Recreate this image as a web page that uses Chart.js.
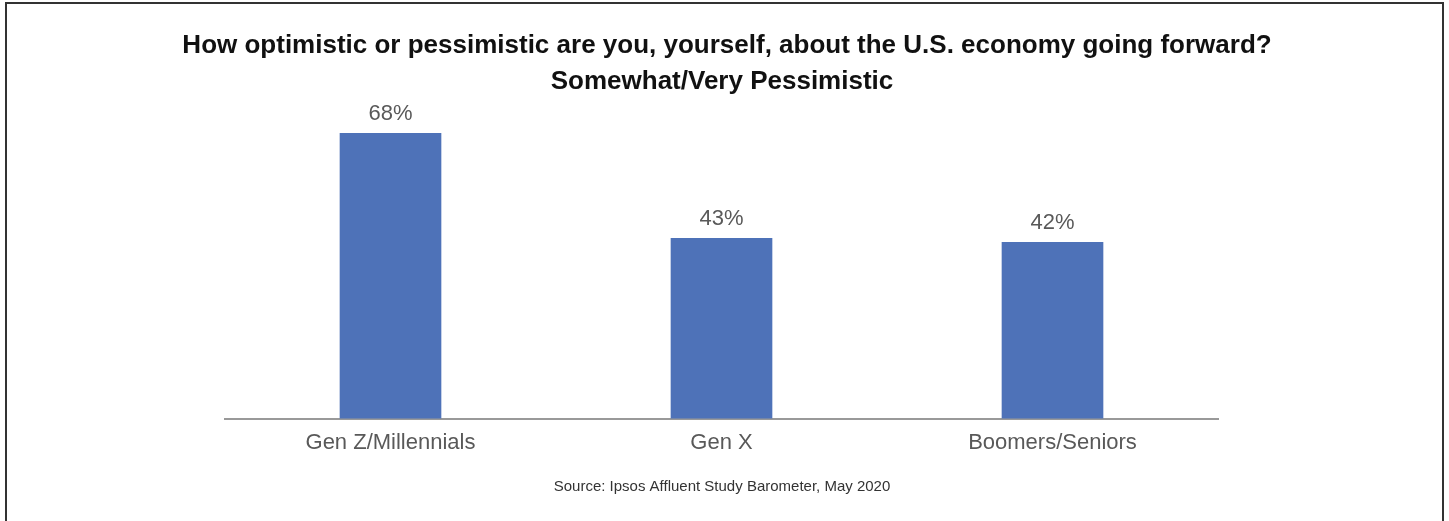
<!DOCTYPE html>
<html>
<head>
<meta charset="utf-8">
<script src="https://cdn.jsdelivr.net/npm/chart.js@4/dist/chart.umd.min.js"></script>
<style>
  html, body { margin: 0; padding: 0; background: #fff; }
  #wrap { position: relative; width: 1449px; height: 521px; overflow: hidden; }
  #frame { position: absolute; left: 5px; top: 2px; width: 1439px; height: 560px; border: 2px solid #333; box-sizing: border-box; pointer-events: none; }
  canvas { position: absolute; left: 0; top: 0; }
</style>
</head>
<body>
<div id="wrap">
  <canvas id="chart" width="1449" height="521"></canvas>
  <div id="frame"></div>
</div>
<script>
// chart data
const categories = ['Gen Z/Millennials', 'Gen X', 'Boomers/Seniors'];
const pessimistic = [68, 43, 42];
const titleLines = [
    'How optimistic or pessimistic are you, yourself, about the U.S. economy going forward?',
    'Somewhat/Very Pessimistic'
];
const sourceText = 'Source: Ipsos Affluent Study Barometer, May 2020';

const FONT = '"Liberation Sans", Arial, Helvetica, sans-serif';

// titles, value labels and source line
const textPlugin = {
    id: 'texts',
    afterDatasetsDraw(chart) {
        const ctx = chart.ctx;
        ctx.save();
        ctx.textAlign = 'center';
        ctx.textBaseline = 'middle';
        ctx.fillStyle = '#111';
        ctx.font = 'bold 26px ' + FONT;
        ctx.fillText(titleLines[0], 727, 46);
        ctx.fillText(titleLines[1], 722, 82);

        ctx.font = '22px ' + FONT;
        ctx.fillStyle = '#595959';
        ctx.textBaseline = 'bottom';
        chart.getDatasetMeta(0).data.forEach((bar, i) => {
            ctx.fillText(pessimistic[i] + '%', bar.x, bar.y - 8);
        });

        ctx.font = '15px ' + FONT;
        ctx.fillStyle = '#333';
        ctx.textBaseline = 'middle';
        ctx.fillText(sourceText, 722, 487);
        ctx.restore();
    }
};

new Chart(document.getElementById('chart'), {
    type: 'bar',
    data: {
        labels: categories,
        datasets: [{
            data: pessimistic,
            backgroundColor: '#4E72B8',
            barThickness: 101
        }]
    },
    options: {
        responsive: false,
        animation: false,
        layout: { padding: { left: 225, right: 231, top: 83, bottom: 54 } },
        plugins: { legend: { display: false }, tooltip: { enabled: false } },
        scales: {
            y: { display: false, min: 0, max: 80 },
            x: {
                grid: { display: false, drawTicks: false },
                border: { color: '#999', width: 2 },
                ticks: { color: '#595959', font: { family: FONT, size: 22 }, padding: 11 }
            }
        }
    },
    plugins: [textPlugin]
});
</script>
</body>
</html>
